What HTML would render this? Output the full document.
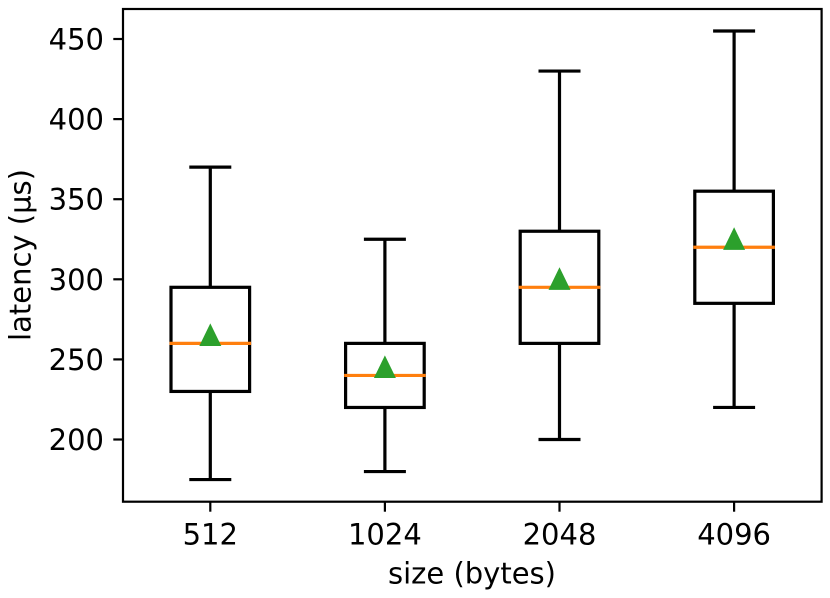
<!DOCTYPE html>
<html lang="en">
<head>
<meta charset="utf-8">
<title>Latency by size</title>
<style>
html,body{margin:0;padding:0;background:#fff;width:830px;height:598px;overflow:hidden}
svg{display:block}
text{font-family:"DejaVu Sans",sans-serif;fill:#000;font-size:29px}
</style>
</head>
<body>
<svg id="chart" xmlns="http://www.w3.org/2000/svg" width="830" height="598" viewBox="0 0 830 598">
<rect x="0" y="0" width="830" height="598" fill="#fff"/>
<g id="marks"></g>
<rect x="123" y="9" width="698.6" height="492.7" fill="none" stroke="#000" stroke-width="2.2"/>
<g id="ticks"></g>
<text x="472" y="583.3" text-anchor="middle">size (bytes)</text>
<text text-anchor="middle" transform="translate(30.7,255) rotate(-90)">latency (µs)</text>
</svg>
<script>
const categories = ['512', '1024', '2048', '4096'];
const whiskerLow = [175, 180, 200, 220];
const q1 = [230, 220, 260, 285];
const medians = [260, 240, 295, 320];
const means = [265, 245, 300, 325];
const q3 = [295, 260, 330, 355];
const whiskerHigh = [370, 325, 430, 455];
const yTicks = [200, 250, 300, 350, 400, 450];

const NS = 'http://www.w3.org/2000/svg';
const marks = document.getElementById('marks');
const ticks = document.getElementById('ticks');
const xScale = function (i) { return 210.3 + i * 174.6; };
const yScale = function (v) { return 39 + (450 - v) * 1.602; };
const BOX_HALF = 39.3;
const CAP_HALF = 21;
const LINE_W = 3.2;

function make(tag, attrs, parent) {
  const el = document.createElementNS(NS, tag);
  Object.keys(attrs).forEach(function (k) { el.setAttribute(k, attrs[k]); });
  parent.appendChild(el);
  return el;
}
function line(x1, y1, x2, y2, color, width, parent) {
  return make('line', { x1: x1, y1: y1, x2: x2, y2: y2, stroke: color, 'stroke-width': width }, parent);
}

categories.forEach(function (cat, i) {
  const cx = xScale(i);
  const group = make('g', {}, marks);
  
  

  const lowWhisker = line(cx, yScale(q1[i]), cx, yScale(whiskerLow[i]), '#000', LINE_W, group);
  
  

  const highWhisker = line(cx, yScale(q3[i]), cx, yScale(whiskerHigh[i]), '#000', LINE_W, group);
  
  

  const lowCap = line(cx - CAP_HALF, yScale(whiskerLow[i]), cx + CAP_HALF, yScale(whiskerLow[i]), '#000', LINE_W, group);
  
  

  const highCap = line(cx - CAP_HALF, yScale(whiskerHigh[i]), cx + CAP_HALF, yScale(whiskerHigh[i]), '#000', LINE_W, group);
  
  

  const box = make('rect', {
    x: cx - BOX_HALF, y: yScale(q3[i]), width: BOX_HALF * 2,
    height: yScale(q1[i]) - yScale(q3[i]), fill: 'none', stroke: '#000', 'stroke-width': LINE_W
  }, group);
  
  

  const median = line(cx - BOX_HALF - 1.5, yScale(medians[i]), cx + BOX_HALF + 1.5, yScale(medians[i]), '#ff7f0e', LINE_W, group);
  
  

  const my = yScale(means[i]) - 0.7;
  const mean = make('polygon', {
    points: cx + ',' + (my - 11.3) + ' ' + (cx + 11) + ',' + (my + 11.3) + ' ' + (cx - 11) + ',' + (my + 11.3),
    fill: '#2ca02c'
  }, group);
  
  

  const tick = line(cx, 502, cx, 511.7, '#000', 2.2, ticks);
  
  

  const label = make('text', { x: cx, y: 544.3, 'text-anchor': 'middle' }, ticks);
  label.textContent = cat;
  
  
});

yTicks.forEach(function (v) {
  const y = yScale(v);
  const tick = line(113.3, y, 123, y, '#000', 2.2, ticks);
  
  

  const label = make('text', { x: 104, y: y + 10.5, 'text-anchor': 'end' }, ticks);
  label.textContent = String(v);
  
  
});
</script>
</body>
</html>
